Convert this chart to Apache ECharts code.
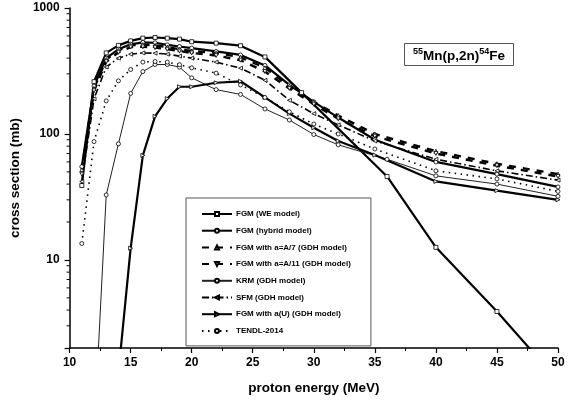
<!DOCTYPE html>
<html><head><meta charset="utf-8">
<script src="https://cdn.jsdelivr.net/npm/echarts@6/dist/echarts.min.js"></script>
<style>html,body{margin:0;padding:0;background:#fff}#c{width:568px;height:400px}</style>
</head><body><div id="c"></div>
<script>
// energies (MeV)
const energies = [11,12,13,14,15,16,17,18,19,20,22,24,26,28,30,32,35,40,45,50];
const weEnergies = [11,12,13,14,15,16,17,18,19,20,22,24,26,29,36,40,45,50];
const krmEnergies = [12,13,14,15,16,17,18,19,20,22,24,26,28,30,32,36,40,45,50];
const auEnergies = [14,15,16,17,18,19,20,22,24,26,28,30,32,35,40,45,50];
// cross sections (mb)
const fgmWE = [39,260,440,505,548,576,583,576,566,540,526,502,409,213,46,12.6,3.9,1.1];
const fgmHybrid = [55,240,400,470,515,533,530,510,495,480,452,424,350,245,180,135,90,60,48,38];
const fgmA7 = [52,230,390,460,505,512,505,490,470,455,440,406,335,240,180,140,100,73,58,48];
const fgmA11 = [48,220,375,445,490,492,485,470,455,440,420,385,313,230,172,132,96,70,56,46];
const krm = [0.41,32.8,83.5,210,313,356,356,339,279,225,206,158,129,99,82,63,46.5,40,32];
const sfm = [42,190,340,400,430,440,438,430,415,400,372,333,267,185,145,118,88,63,51,43];
const fgmAU = [1.27,12.4,67.6,138,191,237,237,255,262,195,145,112,88,68,42,35.5,30];
const tendl = [13.5,87,183,264,325,372,376,372,355,335,304,245,195,150,120,100,76,51,44,35];
// axis ticks
const yMajorTicks = [10,100,1000];
const yMinorTicks = [3,4,5,6,7,8,9,20,30,40,50,60,70,80,90,200,300,400,500,600,700,800,900];
const seriesNames = ['FGM (WE model)','FGM (hybrid model)','FGM with a=A/7 (GDH model)','FGM with a=A/11 (GDH model)','KRM (GDH model)','SFM (GDH model)','FGM with a(U) (GDH model)','TENDL-2014'];

const zip = (xs, ys) => xs.map((x, i) => [x, ys[i]]);
const FONT = 'Liberation Sans';
function mk(name, xs, ys, symbol, lw, type, color) {
  return {
    name, type: 'line', data: zip(xs, ys), symbol, symbolSize: 4, showSymbol: true,
    clip: true, z: 3,
    lineStyle: { color: color || '#000', width: lw, type: type },
    itemStyle: { color: '#fff', borderColor: '#000', borderWidth: 0.8 },
    emphasis: { disabled: true }
  };
}
const triDown = 'path://M0,0L10,0L5,9Z';
const triLeft = 'path://M0,5L9,0L9,10Z';
const triRight = 'path://M0,0L9,5L0,10Z';

const series = [
  mk(seriesNames[0], weEnergies, fgmWE, 'rect', 2.2, 'solid'),
  mk(seriesNames[1], energies, fgmHybrid, 'circle', 2.2, 'solid'),
  mk(seriesNames[2], energies, fgmA7, 'triangle', 2.4, [7, 7]),
  mk(seriesNames[3], energies, fgmA11, triDown, 2.4, [7, 7]),
  mk(seriesNames[4], krmEnergies, krm, 'circle', 1, 'solid', '#222'),
  mk(seriesNames[5], energies, sfm, triLeft, 1.6, [7, 3, 1.5, 3]),
  mk(seriesNames[6], auEnergies, fgmAU, triRight, 2.2, 'solid'),
  mk(seriesNames[7], energies, tendl, 'circle', 1.6, [1.5, 4.5]),
  {
    type: 'custom', name: 'minorTicks', silent: true, clip: false, z: 5,
    data: yMinorTicks.map(v => [10, v]),
    renderItem: (params, api) => {
      const p = api.coord([api.value(0), api.value(1)]);
      return { type: 'line', shape: { x1: p[0] - 3, y1: p[1], x2: p[0], y2: p[1] }, style: { stroke: '#000', lineWidth: 1 } };
    }
  }
];

const chart = echarts.init(document.getElementById('c'), null, { renderer: 'canvas' });
chart.setOption({
  animation: false,
  backgroundColor: '#fff',
  grid: { left: 58, right: 10, top: 8, bottom: 48 },
  title: {
    left: 404, top: 43, padding: [4, 9, 3, 9],
    borderColor: '#555', borderWidth: 1,
    text: '{s|55}{m|Mn(p,2n)}{s|54}{m|Fe}',
    textStyle: {
      rich: {
        s: { fontFamily: FONT, fontWeight: 'bold', fontSize: 9, lineHeight: 16, verticalAlign: 'top', color: '#000' },
        m: { fontFamily: FONT, fontWeight: 'bold', fontSize: 13.5, lineHeight: 16, verticalAlign: 'bottom', color: '#000' }
      }
    }
  },
  legend: {
    data: seriesNames, orient: 'vertical', left: 186, top: 198,
    padding: [11, 20, 10, 15], itemGap: 6.7, itemWidth: 30, itemHeight: 5,
    borderColor: '#555', borderWidth: 1, selectedMode: false,
    textStyle: { fontFamily: FONT, fontWeight: 'bold', fontSize: 8, lineHeight: 10, color: '#000', padding: [0, 0, 0, -1] }
  },
  xAxis: {
    type: 'value', min: 10, max: 50, interval: 5,
    name: 'proton energy (MeV)', nameLocation: 'middle', nameGap: 33,
    nameTextStyle: { fontFamily: FONT, fontWeight: 'bold', fontSize: 13.5, color: '#000' },
    axisLine: { lineStyle: { color: '#000', width: 1.5 } },
    axisTick: { length: 5, lineStyle: { color: '#000', width: 1.2 } },
    minorTick: { show: true, splitNumber: 2, length: 3, lineStyle: { color: '#000', width: 1 } },
    splitLine: { show: false },
    axisLabel: { fontFamily: FONT, fontWeight: 'bold', fontSize: 12, color: '#000', margin: 9 }
  },
  yAxis: {
    type: 'log', logBase: 10, min: 2, max: 1000,
    name: 'cross section (mb)', nameLocation: 'middle', nameGap: 31,
    nameTextStyle: { fontFamily: FONT, fontWeight: 'bold', fontSize: 13.5, color: '#000' },
    axisLine: { show: true, lineStyle: { color: '#000', width: 1.5 } },
    axisTick: { length: 5, lineStyle: { color: '#000', width: 1.2 } },
    splitLine: { show: false },
    axisLabel: {
      fontFamily: FONT, fontWeight: 'bold', fontSize: 12, color: '#000', margin: 10,
      formatter: v => (yMajorTicks.some(t => Math.abs(t - v) < 1e-6 * t) ? String(Math.round(v)) : '')
    }
  },
  series
});
</script></body></html>
